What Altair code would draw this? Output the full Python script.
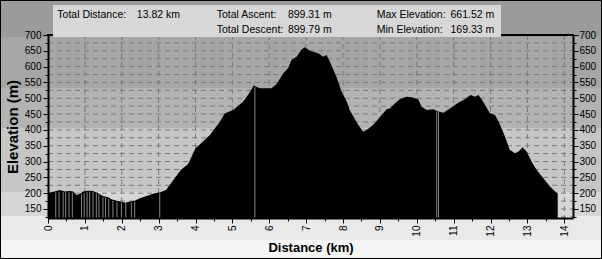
import altair as alt
import pandas as pd

# ---------------- data ----------------
dist_km = [0.00, 0.05, 0.12, 0.23, 0.32, 0.45, 0.59, 0.68, 0.77, 0.86, 0.95, 1.09, 1.22,
           1.36, 1.49, 1.63, 1.72, 1.86, 1.99, 2.10, 2.17, 2.35, 2.49, 2.67, 2.89, 3.03,
           3.20, 3.40, 3.60, 3.80, 4.00, 4.10, 4.39, 4.66, 4.79, 5.02, 5.29, 5.45, 5.58,
           5.74, 6.06, 6.20, 6.38, 6.51, 6.60, 6.74, 6.87, 6.96, 7.10, 7.33, 7.46, 7.55,
           7.64, 7.82, 7.96, 8.10, 8.18, 8.41, 8.55, 8.64, 8.82, 9.05, 9.18, 9.27, 9.41,
           9.54, 9.72, 9.86, 10.04, 10.13, 10.27, 10.45, 10.58, 10.72, 10.90, 11.12, 11.30,
           11.46, 11.58, 11.67, 11.80, 11.98, 12.12, 12.24, 12.39, 12.52, 12.66, 12.75,
           12.87, 12.98, 13.11, 13.25, 13.43, 13.61, 13.75, 13.82]
elev_m = [195, 202, 204, 207, 210, 205, 207, 205, 194, 197, 205, 208, 207,
          200, 191, 187, 181, 176, 173, 170, 172, 176, 184, 191, 200, 202,
          210, 242, 273, 292, 342, 352, 384, 426, 452, 463, 489, 515, 540,
          532, 532, 545, 579, 595, 621, 631, 653, 661.5, 650, 642, 631, 637,
          616, 568, 521, 490, 463, 416, 394, 400, 416, 447, 465, 468, 484,
          497, 505, 503, 497, 473, 463, 465, 458, 454, 468, 486, 497,
          510, 505, 510, 489, 453, 447, 421, 379, 337, 326, 331,
          345, 331, 300, 273, 247, 221, 205, 200]

gap_km = [0.21, 0.30, 0.41, 0.48, 0.57, 0.66, 0.91, 0.98, 1.06, 1.13, 1.22, 1.31, 1.38,
          1.49, 1.56, 1.65, 1.76, 1.87, 1.99, 2.11, 2.26, 2.35, 3.03, 5.61, 10.54, 10.59]
gap_elev = [203, 205, 203, 203, 203, 202, 196, 200, 204, 205, 204, 200, 196,
            188, 186, 182, 176, 173, 170, 168, 170, 173, 200, 535, 458, 457]

x_ticks = [i * 0.5 for i in range(0, 29)]
y_ticks = list(range(125, 701, 25))
grid_x = list(range(1, 15))
grid_y = list(range(125, 701, 25))
y_floor = 121.5

stat_names = ["Total Distance:", "Total Ascent:", "Max Elevation:", "Total Descent:", "Min Elevation:"]
stat_values = ["13.82 km", "899.31 m", "661.52 m", "899.79 m", "169.33 m"]

# ---------------- layout ----------------
W, H = 525, 183
FONT = "Liberation Sans"
xscale = alt.Scale(domain=[0, 14.235], nice=False, zero=False)
yscale = alt.Scale(domain=[y_floor, 700], nice=False, zero=False)

x_axis = alt.Axis(values=x_ticks,
                  labelExpr="datum.value % 1 == 0 ? format(datum.value, 'd') : ''",
                  labelAngle=270, labelFlush=False, labelOverlap=False, labelPadding=2,
                  labelFontSize=10, labelColor="black", labelFont=FONT,
                  tickSize={"condition": {"test": "datum.value % 1 == 0", "value": 5}, "value": 3},
                  tickColor="black", domainColor="black", domainWidth=2,
                  title="Distance (km)", titleFontSize=13, titleFontWeight="bold", titleFont=FONT,
                  titleColor="black", titleX=W / 2, titleY=29, titleBaseline="middle",
                  titleAlign="center", grid=False, zindex=1)

y_left = alt.Axis(values=y_ticks, orient="left",
                  labelExpr="datum.value % 50 == 0 ? format(datum.value, 'd') : ''",
                  labelFlush=False, labelOverlap=False, labelPadding=2,
                  labelFontSize=10, labelColor="black", labelFont=FONT,
                  tickSize={"condition": {"test": "datum.value % 50 == 0", "value": 5}, "value": 3},
                  tickColor="black", domainColor="black", domainWidth=2,
                  title="Elevation (m)", titleFontSize=15, titleFontWeight="bold", titleFont=FONT,
                  titleColor="black", titleAngle=270, titleX=-36, titleY=H / 2,
                  titleBaseline="middle", titleAlign="center", grid=False, zindex=1)

y_right = alt.Axis(values=y_ticks, orient="right",
                   labelExpr="datum.value % 50 == 0 ? format(datum.value, 'd') : ''",
                   labelFlush=False, labelOverlap=False, labelPadding=1,
                   labelFontSize=10, labelColor="black", labelFont=FONT,
                   tickSize={"condition": {"test": "datum.value % 50 == 0", "value": 5}, "value": 3},
                   tickColor="black", domainColor="black", domainWidth=2,
                   title=None, grid=False, zindex=1)

one = alt.Data(values=[{}])

# background: stepped grey bands over the whole canvas
band_edges = [0.1429, 0.3398, 0.4942, 0.7413, 0.834, 0.9266]
band_cols = ["#9b9b9b", "#a6a6a6", "#b3b3b3", "#c6c6c6", "#d6d6d6", "#e9e9e9", "#f5f5f5"]
stops = [alt.GradientStop(color=band_cols[0], offset=0)]
for i, e in enumerate(band_edges):
    stops.append(alt.GradientStop(color=band_cols[i], offset=e))
    stops.append(alt.GradientStop(color=band_cols[i + 1], offset=e))
stops.append(alt.GradientStop(color=band_cols[-1], offset=1))
bg = alt.Chart(one).mark_rect(
    fill=alt.Gradient(gradient="linear", stops=stops, x1=0, x2=0, y1=0, y2=1)
).encode(x=alt.value(-48), x2=alt.value(554), y=alt.value(-35), y2=alt.value(224))

gx = alt.Chart(pd.DataFrame({"gx": grid_x})).mark_rule(
    color="#7a7a7a", strokeDash=[5, 4], strokeWidth=1
).encode(x=alt.X("gx:Q", scale=xscale, axis=x_axis), y=alt.value(0), y2=alt.value(H))

gy = alt.Chart(pd.DataFrame({"gy": grid_y})).mark_rule(
    color="#7a7a7a", strokeDash=[5, 4], strokeWidth=1
).encode(y=alt.Y("gy:Q", scale=yscale, axis=y_right), x=alt.value(0), x2=alt.value(W))

area = alt.Chart(pd.DataFrame({"km": dist_km, "elev": elev_m})).mark_area(
    color="black", interpolate="linear", clip=True
).encode(x=alt.X("km:Q", scale=xscale, axis=x_axis),
         y=alt.Y("elev:Q", scale=yscale, axis=y_left),
         y2=alt.datum(y_floor))

gaps = alt.Chart(pd.DataFrame({"gk": gap_km, "ge": gap_elev})).mark_rule(
    color="#858585", strokeWidth=1, clip=True
).encode(x=alt.X("gk:Q", scale=xscale, axis=x_axis),
         y=alt.Y("ge:Q", scale=yscale, axis=None), y2=alt.datum(y_floor))

top_line = alt.Chart(one).mark_rule(color="black", strokeWidth=2).encode(
    x=alt.value(-1), x2=alt.value(W + 1), y=alt.value(0))

box = alt.Chart(one).mark_rect(fill="#d7d7d7").encode(
    x=alt.value(5), x2=alt.value(453), y=alt.value(-30), y2=alt.value(2))

# stats text: (name, value) placed in three columns, two rows
name_x = [9.3, 168.7, 328.7, 168.7, 328.7]
val_x = [132, 283.7, 446.3, 283.7, 446.3]
row_y = [-16.7, -16.7, -16.7, -1.7, -1.7]
texts = []
for i in range(len(stat_names)):
    texts.append(alt.Chart(one).mark_text(
        text=stat_names[i], align="left", baseline="alphabetic", font=FONT, fontSize=10.5, color="black"
    ).encode(x=alt.value(name_x[i]), y=alt.value(row_y[i])))
    texts.append(alt.Chart(one).mark_text(
        text=stat_values[i], align="right", baseline="alphabetic", font=FONT, fontSize=10.5, color="black"
    ).encode(x=alt.value(val_x[i]), y=alt.value(row_y[i])))

border = alt.Chart(one).mark_rect(fillOpacity=0, stroke="black", strokeWidth=1).encode(
    x=alt.value(-47.5), x2=alt.value(553.5), y=alt.value(-34.5), y2=alt.value(223.5))

chart = alt.layer(bg, gx, gy, area, gaps, top_line, box, *texts, border).resolve_scale(
    y="independent"
).properties(
    width=W, height=H,
    autosize=alt.AutoSizeParams(type="none"),
    padding={"left": 48, "top": 35, "right": 29, "bottom": 41},
    background="#f5f5f5",
).configure_view(stroke=None)

chart.save("out.html", embed_options={"renderer": "svg", "actions": False})
